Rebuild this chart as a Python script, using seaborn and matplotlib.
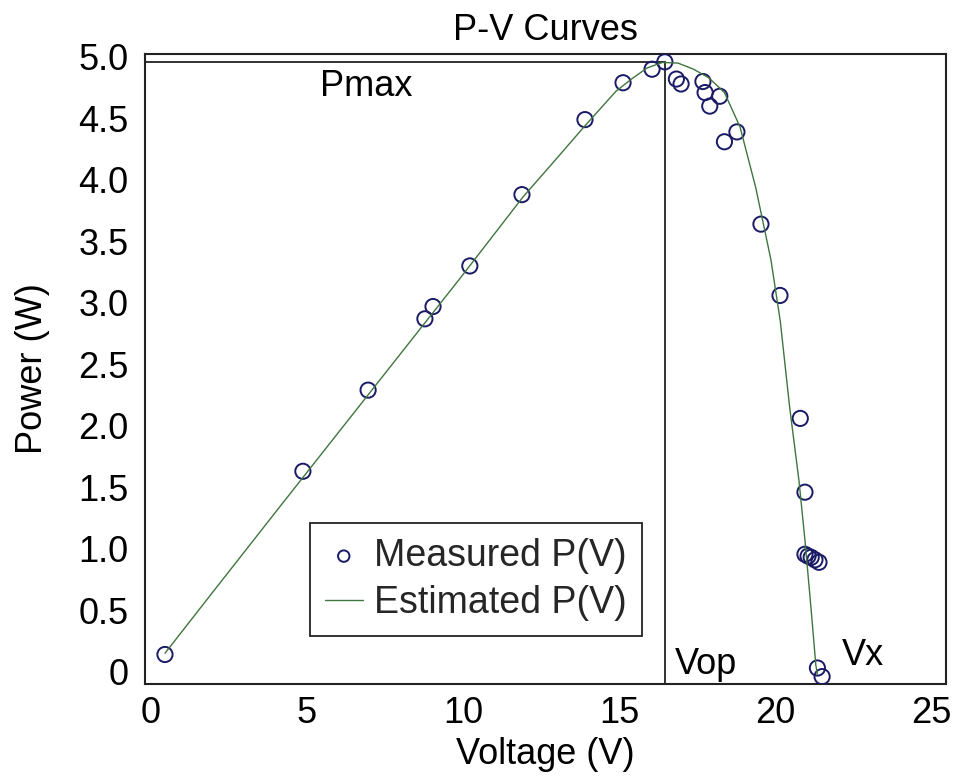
import matplotlib
matplotlib.use("Agg")
import matplotlib.pyplot as plt
import seaborn as sns
import pandas as pd

# Measured points (V, W)
meas_v = [0.45, 4.87, 6.96, 8.78, 9.04, 10.22, 11.89, 13.91, 15.13, 16.06, 16.47,
          16.84, 16.99, 17.69, 17.76, 18.23, 17.91, 18.78, 18.38, 19.55, 20.16,
          20.81, 20.96, 20.96, 21.06, 21.16, 21.28, 21.41, 21.36, 21.51]
meas_p = [0.14, 1.63, 2.29, 2.87, 2.97, 3.30, 3.88, 4.49, 4.79, 4.90, 4.96,
          4.82, 4.78, 4.80, 4.71, 4.68, 4.60, 4.39, 4.31, 3.64, 3.06,
          2.06, 1.46, 0.955, 0.94, 0.93, 0.91, 0.89, 0.03, -0.04]

# Estimated curve
est_v = [0.45, 1.99, 3.97, 5.96, 7.95, 9.94, 11.92, 12.92, 13.91, 14.9, 15.4,
         15.9, 16.39, 16.89, 17.39, 17.88, 18.38, 18.88, 19.38, 19.87, 20.17,
         20.47, 20.77, 20.96, 21.16, 21.31, 21.36]
est_p = [0.15, 0.65, 1.29, 1.93, 2.57, 3.21, 3.86, 4.15, 4.44, 4.72, 4.82,
         4.91, 4.955, 4.95, 4.90, 4.83, 4.71, 4.43, 3.94, 3.35, 2.85, 2.15,
         1.55, 1.07, 0.50, 0.05, -0.02]

# Operating point
v_op = 16.47
p_max = 4.96

x_ticks = [0, 5, 10, 15, 20, 25]
x_tick_labels = ["0", "5", "10", "15", "20", "25"]
y_ticks = [0, 0.5, 1.0, 1.5, 2.0, 2.5, 3.0, 3.5, 4.0, 4.5, 5.0]
y_tick_labels = ["0", "0.5", "1.0", "1.5", "2.0", "2.5", "3.0", "3.5", "4.0", "4.5", "5.0"]

title = "P-V Curves"
x_label = "Voltage (V)"
y_label = "Power (W)"

sns.set_theme(style="white")
plt.rcParams["font.family"] = ["Liberation Sans", "DejaVu Sans"]
FS = 26

fig = plt.figure(figsize=(9.54, 7.81), dpi=100)
ax = fig.add_axes([0.152, 0.1242, 0.8396, 0.8067])

meas_df = pd.DataFrame({"V": meas_v, "P": meas_p})
est_df = pd.DataFrame({"V": est_v, "P": est_p})

xmin, xmax = -0.19, 25.48
ymin, ymax = -0.10, 5.024

ax.plot([xmin, v_op], [p_max, p_max], color="#222222", lw=1.3, zorder=2)
ax.plot([v_op, v_op], [ymin, p_max], color="#222222", lw=1.3, zorder=2)

sns.scatterplot(data=meas_df, x="V", y="P", ax=ax, marker="o", s=120,
                facecolor="none", edgecolor="#1a1a66", linewidth=1.4,
                label="Measured P(V)", zorder=3)
sns.lineplot(data=est_df, x="V", y="P", ax=ax, color="#3f753f", lw=1.0,
             sort=False, estimator=None, label="Estimated P(V)", zorder=4)

ax.set_xlim(xmin, xmax)
ax.set_ylim(ymin, ymax)
ax.set_xticks(x_ticks)
ax.set_xticklabels(x_tick_labels)
ax.set_yticks(y_ticks)
ax.set_yticklabels(y_tick_labels)
ax.tick_params(axis="both", length=0, labelsize=FS, colors="black")
ax.tick_params(axis="x", pad=9)
ax.tick_params(axis="y", pad=12)

ax.set_title(title, fontsize=FS, pad=10, color="black")
ax.set_xlabel(x_label, fontsize=FS, color="black", labelpad=4)
ax.set_ylabel(y_label, fontsize=FS, color="black", labelpad=20)

for sp in ax.spines.values():
    sp.set_visible(True)
    sp.set_color("#222222")
    sp.set_linewidth(1.5)

ax.text(5.42, 4.76, "Pmax", fontsize=FS, ha="left", va="center", color="black")
ax.text(16.79, 0.06, "Vop", fontsize=FS, ha="left", va="center", color="black")
ax.text(22.15, 0.13, "Vx", fontsize=FS, ha="left", va="center", color="black")

leg = ax.legend(loc="upper left", bbox_to_anchor=(0.206, 0.2556), fontsize=27,
                frameon=True, fancybox=False, borderaxespad=0, borderpad=0.4,
                labelspacing=0.3, handlelength=1.0, handletextpad=0.3,
                markerscale=0.75)
leg.get_frame().set_edgecolor("#222222")
leg.get_frame().set_linewidth(1.3)
leg.get_frame().set_alpha(1)

fig.savefig("out.png", dpi=100, facecolor="white")
